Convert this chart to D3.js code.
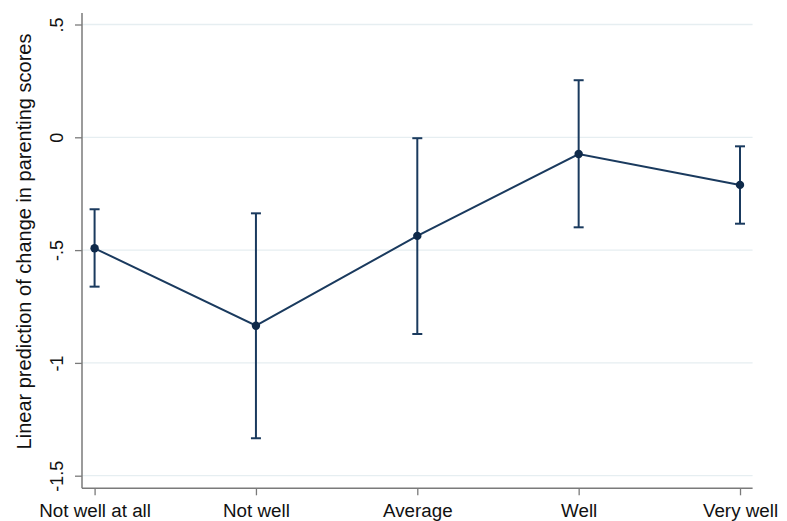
<!DOCTYPE html>
<html>
<head>
<meta charset="utf-8">
<script src="https://cdn.jsdelivr.net/npm/d3@7"></script>
<style>
  body { margin: 0; background: #fff; }
  svg { display: block; }
  text { font-family: "Liberation Sans", Arial, sans-serif; fill: #111; }
</style>
</head>
<body>
<svg id="chart" width="787" height="521"></svg>
<script>
const categories = ["Not well at all", "Not well", "Average", "Well", "Very well"];
const estimates = [-0.492, -0.835, -0.437, -0.074, -0.211];
const ciLower = [-0.662, -1.334, -0.872, -0.399, -0.383];
const ciUpper = [-0.319, -0.337, -0.004, 0.253, -0.040];
const yTicks = [0.5, 0, -0.5, -1, -1.5];
const yTickLabels = [".5", "0", "-.5", "-1", "-1.5"];
const yTitle = "Linear prediction of change in parenting scores";

const svg = d3.select("#chart");
const pLeft = 82, pRight = 752.6, pTop = 13, pBottom = 488.3;

const x = d3.scalePoint().domain(categories).range([pLeft, pRight]).padding(0.078);
const y = d3.scaleLinear().domain([-1.5, 0.5]).range([475.7, 24.5]);

const navy = "#1a3a5e";

// gridlines
svg.append("g").selectAll("line").data(yTicks).join("line")
  .attr("x1", pLeft).attr("x2", pRight)
  .attr("y1", d => y(d)).attr("y2", d => y(d))
  .attr("stroke", "#e6eef1").attr("stroke-width", 1.3);

// y axis
const yAxis = svg.append("g").attr("transform", `translate(${pLeft},0)`)
  .call(d3.axisLeft(y).tickValues(yTicks).tickFormat((d, i) => yTickLabels[i]).tickSize(7).tickSizeOuter(0));
yAxis.select(".domain").attr("d", `M0,${pTop}V${pBottom}`).attr("stroke", "#7a7a7a").attr("stroke-width", 1.5);
yAxis.selectAll(".tick line").attr("stroke", "#7a7a7a").attr("stroke-width", 1.3);
yAxis.selectAll(".tick text")
  .attr("transform", "rotate(-90)")
  .attr("x", 0).attr("y", -19).attr("dy", 0)
  .attr("text-anchor", "middle")
  .style("font-size", "18px").style("font-family", "Liberation Sans, Arial, sans-serif").attr("fill", "#111");

// x axis
const xAxis = svg.append("g").attr("transform", `translate(0,${pBottom})`)
  .call(d3.axisBottom(x).tickSize(7).tickSizeOuter(0));
xAxis.select(".domain").attr("d", `M${pLeft},0H${pRight}`).attr("stroke", "#7a7a7a").attr("stroke-width", 1.5);
xAxis.selectAll(".tick line").attr("stroke", "#7a7a7a").attr("stroke-width", 1.3);
xAxis.selectAll(".tick text")
  .attr("y", 28.5).attr("dy", 0)
  .style("font-size", "18.8px").style("font-family", "Liberation Sans, Arial, sans-serif").attr("fill", "#111");

// y title
svg.append("text")
  .attr("transform", `translate(31,${(33 + 450) / 2}) rotate(-90)`)
  .attr("text-anchor", "middle")
  .style("font-size", "20px")
  .text(yTitle);

const data = categories.map((c, i) => ({ c, est: estimates[i], lo: ciLower[i], hi: ciUpper[i] }));

// error bars
const eb = svg.append("g").attr("stroke", navy).attr("stroke-width", 2).attr("fill", "none");
eb.selectAll("line.v").data(data).join("line").attr("class", "v")
  .attr("x1", d => x(d.c)).attr("x2", d => x(d.c))
  .attr("y1", d => y(d.lo)).attr("y2", d => y(d.hi));
eb.selectAll("line.t").data(data).join("line").attr("class", "t")
  .attr("x1", d => x(d.c) - 5).attr("x2", d => x(d.c) + 5)
  .attr("y1", d => y(d.hi)).attr("y2", d => y(d.hi));
eb.selectAll("line.b").data(data).join("line").attr("class", "b")
  .attr("x1", d => x(d.c) - 5).attr("x2", d => x(d.c) + 5)
  .attr("y1", d => y(d.lo)).attr("y2", d => y(d.lo));

// line
svg.append("path").datum(data)
  .attr("fill", "none").attr("stroke", navy).attr("stroke-width", 2)
  .attr("d", d3.line().x(d => x(d.c)).y(d => y(d.est)));

// points
svg.append("g").selectAll("circle").data(data).join("circle")
  .attr("cx", d => x(d.c)).attr("cy", d => y(d.est)).attr("r", 4.2)
  .attr("fill", "#0f2a4a");
</script>
</body>
</html>
